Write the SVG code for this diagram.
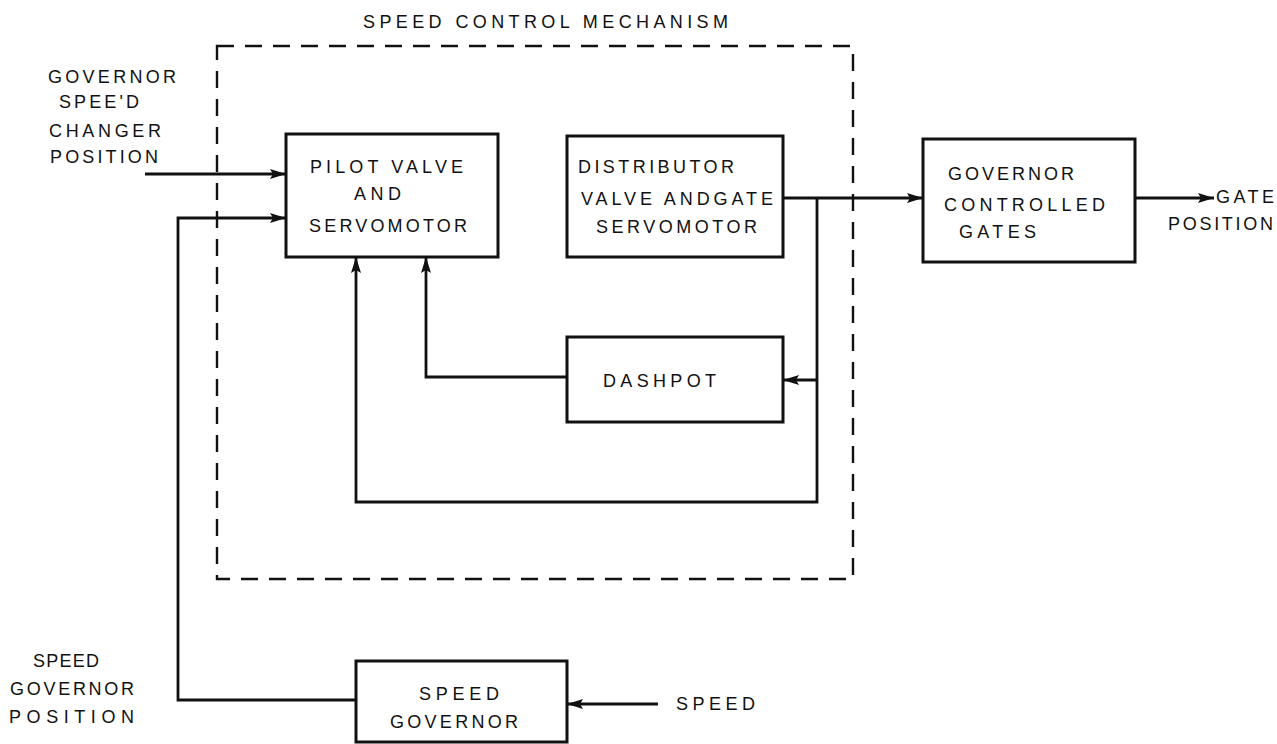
<svg xmlns="http://www.w3.org/2000/svg" width="1277" height="744" viewBox="0 0 1277 744">
<style>
.box{fill:none;stroke:#111;stroke-width:3}
.ln{fill:none;stroke:#111;stroke-width:2.8}
.dash{fill:none;stroke:#111;stroke-width:2.4;stroke-dasharray:17 11}
text{font-family:"Liberation Sans",Arial,sans-serif;font-size:18px;fill:#111}
</style>
<defs>
<marker id="ah" viewBox="0 0 16 10" refX="16" refY="5" markerWidth="16" markerHeight="10" markerUnits="userSpaceOnUse" orient="auto">
<path d="M0,0 L16,5 L0,10 L3,5 Z" fill="#111"/>
</marker>
</defs>
<rect width="1277" height="744" fill="#fff"/>
<g id="mechanism">
<rect class="dash" x="217" y="46" width="636" height="533"/>
<text x="363" y="28" textLength="365" lengthAdjust="spacing">SPEED CONTROL MECHANISM</text>
</g>
<g id="pilot">
<rect class="box" x="286" y="134" width="212" height="123"/>
<text x="310" y="173" textLength="153" lengthAdjust="spacing">PILOT VALVE</text>
<text x="354" y="200" textLength="47" lengthAdjust="spacing">AND</text>
<text x="309" y="232" textLength="158" lengthAdjust="spacing">SERVOMOTOR</text>
</g>
<g id="distributor">
<rect class="box" x="567" y="136" width="216" height="121"/>
<text x="578" y="173" textLength="156" lengthAdjust="spacing">DISTRIBUTOR</text>
<text x="581" y="205" textLength="192" lengthAdjust="spacing">VALVE ANDGATE</text>
<text x="596" y="233" textLength="161" lengthAdjust="spacing">SERVOMOTOR</text>
</g>
<g id="dashpot">
<rect class="box" x="567" y="337" width="216" height="85"/>
<text x="603" y="387" textLength="113" lengthAdjust="spacing">DASHPOT</text>
</g>
<g id="gates">
<rect class="box" x="923" y="139" width="212" height="123"/>
<text x="948" y="180" textLength="126" lengthAdjust="spacing">GOVERNOR</text>
<text x="944" y="211" textLength="161" lengthAdjust="spacing">CONTROLLED</text>
<text x="959" y="238" textLength="77" lengthAdjust="spacing">GATES</text>
</g>
<g id="speedgov">
<rect class="box" x="356" y="661" width="211" height="81"/>
<text x="419" y="700" textLength="80" lengthAdjust="spacing">SPEED</text>
<text x="390" y="728" textLength="128" lengthAdjust="spacing">GOVERNOR</text>
</g>
<g id="labels">
<text x="48" y="83" textLength="128" lengthAdjust="spacing">GOVERNOR</text>
<text x="59" y="108" textLength="80" lengthAdjust="spacing">SPEE'D</text>
<text x="49" y="137" textLength="112" lengthAdjust="spacing">CHANGER</text>
<text x="50" y="163" textLength="108" lengthAdjust="spacing">POSITION</text>
<text x="1216" y="203" textLength="58" lengthAdjust="spacing">GATE</text>
<text x="1168" y="230" textLength="105" lengthAdjust="spacing">POSITION</text>
<text x="33" y="667" textLength="66" lengthAdjust="spacing">SPEED</text>
<text x="10" y="695" textLength="124" lengthAdjust="spacing">GOVERNOR</text>
<text x="9" y="723" textLength="125" lengthAdjust="spacing">POSITION</text>
<text x="676" y="710" textLength="79" lengthAdjust="spacing">SPEED</text>
</g>
<g id="connectors">
<path class="ln" d="M145,174 H286" marker-end="url(#ah)"/>
<path class="ln" d="M356,700 H178 V218 H286" marker-end="url(#ah)"/>
<path class="ln" d="M658,704 H567" marker-end="url(#ah)"/>
<path class="ln" d="M783,198 H923" marker-end="url(#ah)"/>
<path class="ln" d="M1135,198 H1214" marker-end="url(#ah)"/>
<path class="ln" d="M817,198 V502 H356 V257" marker-end="url(#ah)"/>
<path class="ln" d="M817,380 H783" marker-end="url(#ah)"/>
<path class="ln" d="M567,377 H426 V257" marker-end="url(#ah)"/>
</g>
</svg>
